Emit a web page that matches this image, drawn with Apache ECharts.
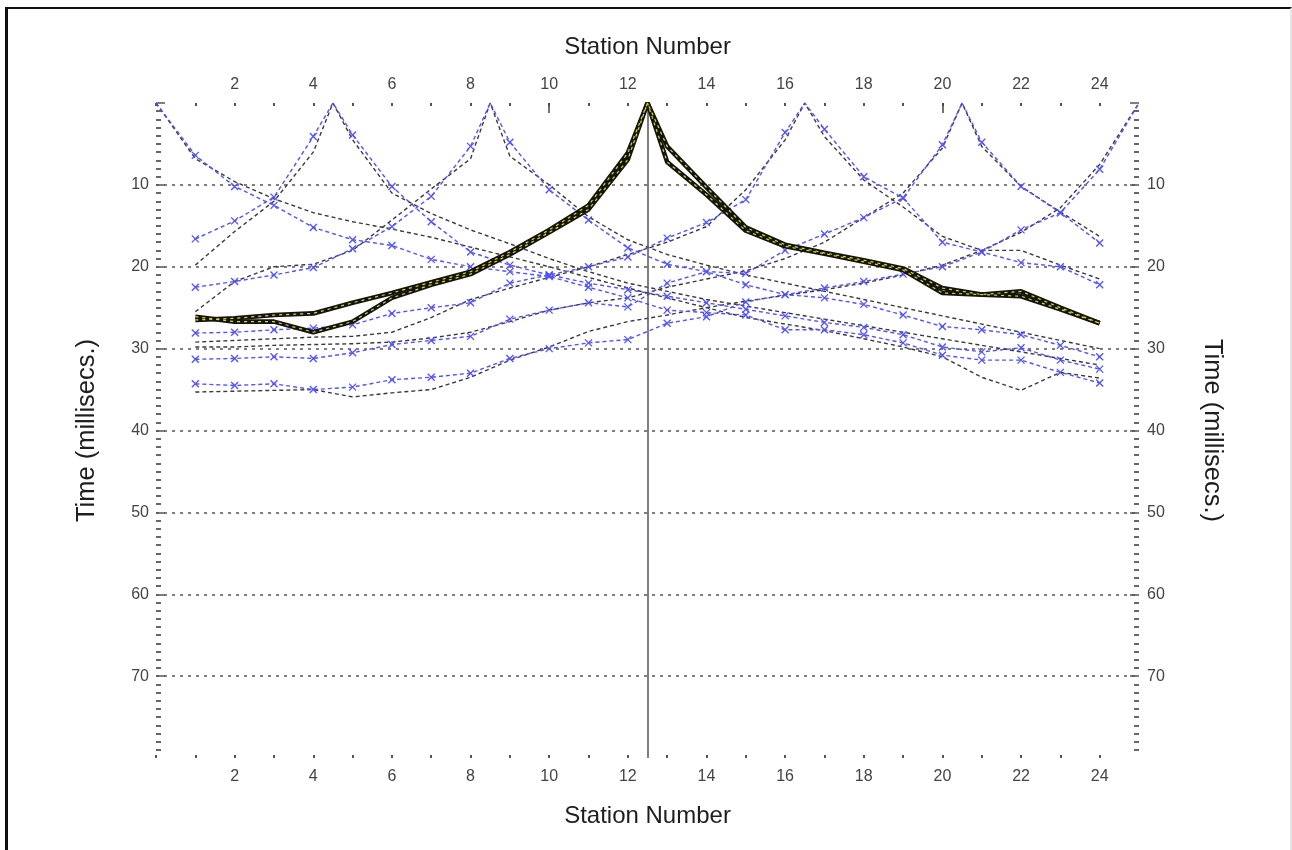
<!DOCTYPE html>
<html>
<head>
<meta charset="utf-8">
<script src="https://cdn.jsdelivr.net/npm/echarts@6/dist/echarts.min.js"></script>
<style>
  html, body { margin: 0; padding: 0; background: #fff; }
  #frame {
    position: absolute; left: 5px; top: 7px; width: 1287px; height: 843px;
    border-left: 3px solid #111; border-top: 2px solid #111; border-right: 2px solid #e6e6e6;
    box-sizing: border-box;
  }
  #chart { position: absolute; left: 0; top: 0; width: 1292px; height: 850px; }
</style>
</head>
<body>
<div id="frame"></div>
<div id="chart"></div>
<script>
// Receiver stations along the spread
const stations = [1, 2, 3, 4, 5, 6, 7, 8, 9, 10, 11, 12, 13, 14, 15, 16, 17, 18, 19, 20, 21, 22, 23, 24];

// Shot point positions (station units)
const shotPositions = [0, 4.5, 8.5, 12.5, 16.5, 20.5, 25];

// Picked first-arrival times (ms) per shot, stations 1..24
const pickedShot0 = [6.4, 10.2, 12.5, 15.2, 16.7, 17.4, 19.1, 20.0, 20.6, 21.2, 22.5, 23.8, 25.3, 25.6, 25.9, 27.7, 27.7, 28.3, 29.3, 30.8, 31.4, 31.4, 32.9, 34.2];
const pickedShot1 = [16.6, 14.4, 11.5, 4.1, 3.9, 10.2, 14.5, 18.2, 19.8, 21.0, 22.0, 22.8, 23.6, 24.4, 25.2, 26.0, 26.8, 27.4, 28.3, 29.8, 30.4, 29.9, 31.4, 32.5];
const pickedShot2 = [22.5, 21.8, 21.0, 20.1, 17.8, 15.1, 11.4, 5.3, 4.8, 10.6, 14.3, 17.7, 19.7, 20.6, 22.2, 23.4, 23.8, 24.6, 25.9, 27.3, 27.7, 28.3, 29.6, 31.0];
const pickedShot3 = [26.5, 26.3, 25.9, 25.7, 24.4, 23.2, 21.9, 20.6, 18.2, 15.5, 12.5, 6.1, 5.3, 10.3, 15.2, 17.3, 18.3, 19.2, 20.2, 22.6, 23.4, 23.0, 25.0, 26.9];
const pickedShot4 = [28.1, 28.0, 27.7, 27.5, 27.1, 25.7, 25.0, 24.4, 22.0, 21.0, 20.0, 18.8, 16.5, 14.6, 11.8, 3.6, 3.2, 9.0, 11.6, 17.0, 18.2, 19.5, 20.0, 22.2];
const pickedShot5 = [31.3, 31.2, 31.0, 31.2, 30.5, 29.5, 29.0, 28.5, 26.4, 25.3, 24.4, 24.9, 22.0, 20.6, 20.8, 18.0, 16.0, 14.0, 11.6, 5.1, 4.8, 10.2, 13.4, 17.1];
const pickedShot6 = [34.3, 34.5, 34.3, 35.0, 34.7, 33.8, 33.5, 33.0, 31.2, 30.0, 29.3, 28.9, 26.9, 26.1, 24.3, 23.4, 22.6, 21.8, 20.9, 20.0, 18.2, 15.5, 13.4, 8.1];

// Modelled travel times (ms) per shot, stations 1..24
const modelShot0 = [6.8, 9.6, 11.7, 13.4, 14.5, 15.4, 16.4, 17.6, 18.8, 20.0, 21.3, 22.6, 23.8, 25.0, 26.2, 27.0, 27.8, 28.8, 29.8, 31.0, 33.5, 35.1, 32.9, 33.6];
const modelShot1 = [19.8, 15.7, 12.0, 6.0, 4.5, 11.0, 13.5, 15.5, 17.2, 19.0, 20.6, 22.0, 23.0, 24.0, 24.8, 25.6, 26.4, 27.2, 28.0, 28.8, 29.6, 30.4, 31.2, 32.0];
const modelShot2 = [25.5, 21.8, 20.0, 19.7, 18.0, 14.3, 10.5, 6.8, 6.5, 10.0, 13.9, 16.7, 18.5, 19.8, 21.0, 22.0, 23.0, 24.0, 25.0, 26.0, 27.0, 28.0, 29.0, 30.0];
const modelShot3 = [26.1, 26.7, 26.7, 28.0, 26.7, 23.8, 22.2, 20.9, 18.5, 15.8, 13.0, 6.9, 7.2, 11.2, 15.6, 17.5, 18.4, 19.4, 20.4, 23.2, 23.4, 23.6, 25.2, 26.9];
const modelShot4 = [29.2, 29.0, 28.8, 28.6, 28.5, 28.0, 26.2, 24.0, 22.6, 21.3, 20.0, 18.5, 17.0, 15.1, 10.6, 4.5, 4.1, 9.4, 12.7, 16.3, 18.0, 18.0, 19.8, 21.5];
const modelShot5 = [29.8, 29.8, 29.6, 29.5, 29.4, 29.2, 28.7, 28.0, 26.7, 25.3, 24.4, 23.8, 22.5, 21.5, 20.5, 19.0, 17.0, 14.0, 11.0, 5.5, 5.3, 10.2, 13.3, 16.3];
const modelShot6 = [35.3, 35.2, 35.1, 35.0, 35.9, 35.4, 35.0, 33.5, 31.4, 29.8, 27.9, 26.7, 25.9, 25.0, 24.2, 23.5, 22.8, 22.0, 21.0, 19.8, 18.0, 15.8, 12.8, 7.5];

const pickedTimes = [pickedShot0, pickedShot1, pickedShot2, pickedShot3, pickedShot4, pickedShot5, pickedShot6];
const modelTimes = [modelShot0, modelShot1, modelShot2, modelShot3, modelShot4, modelShot5, modelShot6];

// Index of the highlighted shot
const activeShot = 3;

// Axis ticks and tick labels
const stationTicks = [0, 1, 2, 3, 4, 5, 6, 7, 8, 9, 10, 11, 12, 13, 14, 15, 16, 17, 18, 19, 20, 21, 22, 23, 24];
const stationMajorTicks = [10, 20];
const stationLabels = [2, 4, 6, 8, 10, 12, 14, 16, 18, 20, 22, 24];
const timeTicks = [0, 10, 20, 30, 40, 50, 60, 70];
const timeLabels = [10, 20, 30, 40, 50, 60, 70];

const FONT = 'Liberation Sans, Arial, sans-serif';
const BLUE = '#5252ff';
const DARK = '#3a3a3a';

// Travel-time curve through the shot point (time zero) and each station
function curve(shotX, times, markShot) {
  const pts = [];
  let placed = false;
  const shotPt = markShot ? { value: [shotX, 0], symbol: 'none' } : [shotX, 0];
  stations.forEach((s, i) => {
    if (!placed && s > shotX) { pts.push(shotPt); placed = true; }
    pts.push([s, times[i]]);
  });
  if (!placed) pts.push(shotPt);
  return pts;
}

const series = [];

shotPositions.forEach((x, k) => {
  if (k === activeShot) return;
  series.push({
    type: 'line', name: 'model ' + x, data: curve(x, modelTimes[k], false),
    symbol: 'none', silent: true, z: 2,
    lineStyle: { color: DARK, width: 1.4, type: [4, 3] }
  });
});

shotPositions.forEach((x, k) => {
  if (k === activeShot) return;
  series.push({
    type: 'line', name: 'picks ' + x, data: curve(x, pickedTimes[k], true),
    symbol: 'path://M0,0L10,10M10,0L0,10', symbolSize: 7, showAllSymbol: true,
    itemStyle: { color: 'rgba(0,0,0,0)', borderColor: BLUE, borderWidth: 1.3 },
    silent: true, z: 3,
    lineStyle: { color: BLUE, width: 1.4, type: [4, 3] }
  });
});

// Highlighted shot: heavy black trace with a yellow dashed core
[modelTimes[activeShot], pickedTimes[activeShot]].forEach((t, j) => {
  const d = curve(shotPositions[activeShot], t, false);
  series.push({
    type: 'line', name: 'active base ' + j, data: d, symbol: 'none', silent: true, z: 5,
    lineStyle: { color: '#141414', width: 4.6 }
  });
  series.push({
    type: 'line', name: 'active core ' + j, data: d, symbol: 'none', silent: true, z: 6,
    lineStyle: { color: '#dcdc10', width: 1.2, type: [3, 4] }
  });
});

// Vertical marker at the active shot
series.push({
  type: 'line', name: 'shot marker', data: [], silent: true, z: 4,
  markLine: {
    silent: true, symbol: 'none', label: { show: false },
    lineStyle: { color: '#555', width: 1.5, type: 'solid' },
    data: [{ xAxis: shotPositions[activeShot] }]
  }
});

const tickLabelStyle = { color: '#444', fontSize: 16, fontFamily: FONT };

function xAxisCfg(pos) {
  return {
    type: 'value', position: pos, min: 0, max: 25, interval: 2,
    name: 'Station Number', nameLocation: 'middle', nameGap: pos === 'top' ? 44 : 46,
    nameTextStyle: { color: '#1e1e1e', fontSize: 24, fontFamily: FONT },
    axisLine: { show: false, onZero: false },
    axisTick: { show: true, inside: true, length: 3, customValues: stationTicks, lineStyle: { color: '#555', width: 2 } },
    splitLine: { show: false },
    axisLabel: { margin: pos === 'top' ? 10 : 11, customValues: stationLabels, ...tickLabelStyle }
  };
}

function yAxisCfg(pos, grid) {
  return {
    type: 'value', position: pos, inverse: true, min: 0, max: 80, interval: 10,
    name: 'Time (millisecs.)', nameLocation: 'middle', nameGap: pos === 'left' ? 56 : 60,
    nameRotate: pos === 'left' ? 90 : -90,
    nameTextStyle: { color: '#1e1e1e', fontSize: 25.5, fontFamily: FONT },
    axisLine: { show: false, onZero: false },
    axisTick: { show: true, inside: true, length: 9, customValues: timeTicks, lineStyle: { color: '#555', width: 1.5 } },
    minorTick: { show: true, splitNumber: 10, length: 5, lineStyle: { color: '#666', width: 2 } },
    splitLine: {
      show: grid, showMinLine: false, showMaxLine: true,
      lineStyle: { color: '#555', width: 1.5, type: [3, 5] }
    },
    axisLabel: { margin: pos === 'left' ? 7 : 8, customValues: timeLabels, ...tickLabelStyle }
  };
}

const chart = echarts.init(document.getElementById('chart'), null, { renderer: 'canvas' });
chart.setOption({
  animation: false,
  backgroundColor: 'transparent',
  grid: { left: 156, right: 153, top: 103, bottom: 92, containLabel: false, outerBoundsMode: 'none' },
  xAxis: [
    xAxisCfg('bottom'),
    xAxisCfg('top'),
    {
      // longer marks every ten stations along the top
      type: 'value', position: 'top', min: 0, max: 25,
      axisLine: { show: false, onZero: false }, axisLabel: { show: false }, splitLine: { show: false },
      axisTick: { show: true, inside: true, length: 10, customValues: stationMajorTicks, lineStyle: { color: '#444', width: 1.5 } }
    }
  ],
  yAxis: [yAxisCfg('left', true), yAxisCfg('right', false)],
  series: series
});
</script>
</body>
</html>
